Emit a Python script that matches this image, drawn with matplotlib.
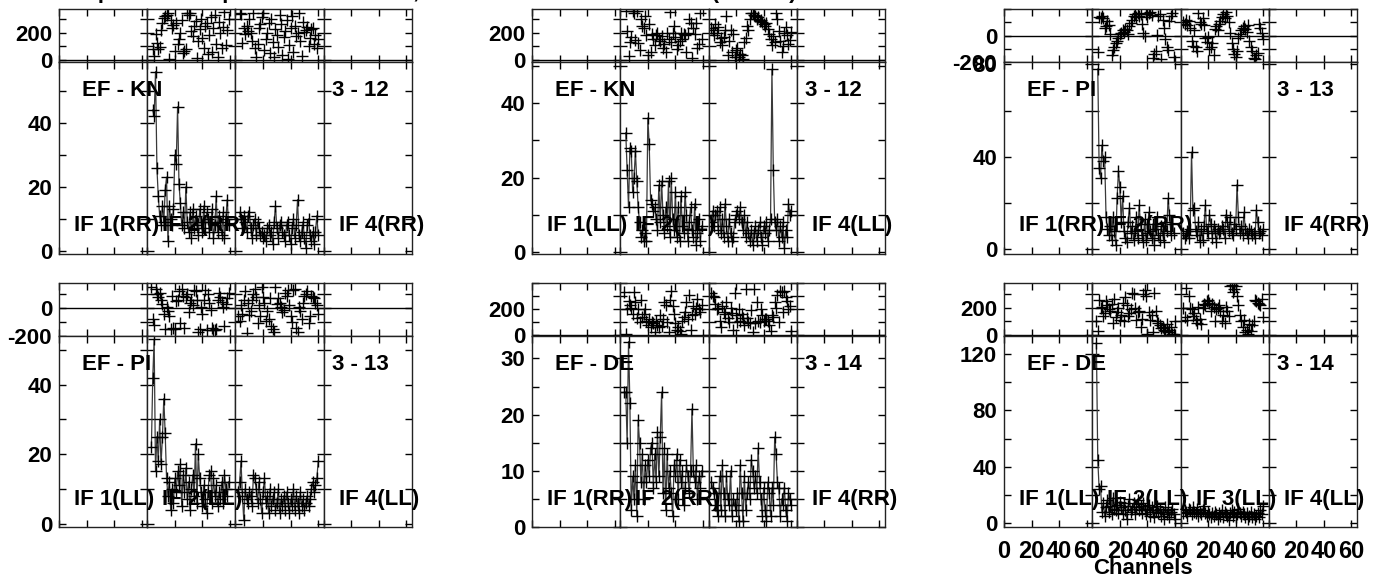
import numpy as np
import matplotlib
matplotlib.use("Agg")
import matplotlib.pyplot as plt
from matplotlib.ticker import FixedLocator, FuncFormatter

plt.rcParams['font.family'] = ['Liberation Sans', 'DejaVu Sans']
plt.rcParams['font.weight'] = 'bold'

# Etiquetas de cada panel
baselines = ["EF - KN", "EF - KN", "EF - PI", "EF - PI", "EF - DE", "EF - DE"]
ant_nums = ["3 - 12", "3 - 12", "3 - 13", "3 - 13", "3 - 14", "3 - 14"]
stokes = ["RR", "LL", "RR", "LL", "RR", "LL"]
if_shown = [[1, 2, 4], [1, 2, 4], [1, 2, 4], [1, 2, 4], [1, 2, 4], [1, 2, 3, 4]]
title_text = "Amplitude and phase vs. channel, Calibrated data for 3C 345  (IF 1 - 4)"

# Canal inicial de los datos (IF 2 e IF 3)
start_if2 = [4, 4, 4, 3, 3, 3]
start_if3 = [3, 2, 2, 2, 2, 2]

# EF - KN RR
kn_rr_amp2 = [44, 42, 56, 26, 17, 11, 8, 14, 9, 19, 23, 3, 14, 10, 8, 13, 30, 27, 45, 21,
              15, 8, 12, 7, 20, 9, 6, 12, 4, 13, 7, 11, 8, 5, 13, 9, 6, 14, 7, 12,
              10, 6, 9, 13, 4, 8, 17, 6, 11, 9, 5, 12, 4, 10, 16, 8]
kn_rr_amp3 = [12, 10, 7, 11, 9, 6, 11, 12, 7, 4, 8, 10, 5, 9, 7, 5, 6, 4, 5, 3,
              7, 8, 5, 6, 2, 9, 14, 7, 4, 8, 9, 6, 5, 3, 8, 9, 5, 2, 7, 10,
              4, 8, 16, 5, 3, 6, 9, 4, 1, 8, 10, 5, 3, 6, 2, 6, 11, 5]
kn_rr_ph2 = [78, 31, 186, 126, 78, 95, 221, 269, 305, 317, 329, 340, 7, 293, 233, 257, 67, 269, 114, 150,
             198, 293, 55, 67, 78, 340, 329, 340, 210, 174, 245, 282, 12, 140, 226, 300, 160, 90, 250, 270,
             45, 180, 310, 60, 236, 330, 120, 20, 275, 195, 85, 240, 350, 110, 215, 300]
kn_rr_ph3 = [340, 335, 126, 233, 186, 250, 210, 300, 196, 142, 340, 88, 25, 120, 230, 260, 310, 345, 75, 150,
             200, 270, 55, 300, 130, 20, 225, 180, 95, 330, 260, 40, 165, 210, 290, 10, 110, 230, 320, 62,
             250, 175, 195, 340, 140, 30, 280, 205, 215, 240, 100, 160, 225, 230, 120, 185, 90, 150]

# EF - KN LL
kn_ll_amp2 = [32, 22, 12, 28, 27, 16, 20, 27, 19, 12, 8, 4, 6, 3, 5, 3, 36, 29, 14, 13,
              11, 12, 9, 6, 18, 8, 19, 10, 5, 12, 7, 19, 4, 20, 9, 6, 16, 4, 12, 3,
              15, 7, 5, 16, 10, 3, 8, 12, 6, 4, 13, 2, 5, 9, 3, 7]
kn_ll_amp3 = [8, 11, 7, 10, 11, 6, 12, 5, 9, 4, 13, 7, 3, 9, 5, 3, 4, 8, 10, 11,
              9, 12, 8, 6, 10, 4, 8, 5, 3, 6, 2, 5, 7, 3, 6, 8, 4, 2, 7, 5,
              8, 3, 6, 9, 49, 22, 8, 6, 9, 3, 7, 4, 8, 1, 6, 4, 13, 10, 11]
kn_ll_ph2 = [360, 210, 30, 130, 170, 355, 345, 145, 355, 125, 75, 300, 250, 230, 320, 180, 40, 260, 60, 190,
             150, 110, 185, 200, 150, 140, 175, 90, 120, 60, 200, 150, 350, 130, 195, 250, 170, 80, 110, 140,
             200, 155, 190, 180, 60, 200, 300, 270, 15, 230, 190, 270, 85, 120, 340, 150]
kn_ll_ph3 = [230, 220, 180, 260, 200, 240, 130, 160, 110, 170, 215, 320, 40, 140, 220, 60, 190, 25, 70, 85,
             20, 45, 40, 10, 130, 160, 250, 215, 295, 340, 345, 330, 320, 300, 310, 285, 290, 280, 260, 250,
             270, 225, 190, 150, 110, 175, 130, 340, 300, 210, 140, 60, 100, 200, 240, 180, 120, 145, 205]

# EF - PI RR
pi_rr_amp2 = [78, 35, 31, 45, 38, 40, 14, 9, 6, 10, 4, 14, 8, 2, 22, 34, 27, 12, 23, 8,
              5, 3, 12, 18, 7, 10, 4, 8, 14, 5, 19, 11, 6, 3, 13, 4, 7, 16, 8, 5,
              11, 2, 9, 14, 6, 4, 10, 7, 3, 12, 8, 22, 15, 6, 11, 7]
pi_rr_amp3 = [7, 5, 6, 8, 5, 9, 42, 17, 18, 8, 6, 12, 3, 9, 4, 10, 19, 8, 7, 15,
              11, 5, 10, 8, 3, 9, 7, 8, 10, 9, 5, 15, 12, 8, 14, 7, 6, 11, 9, 28,
              14, 7, 10, 6, 16, 9, 7, 5, 9, 8, 6, 7, 5, 17, 12, 7, 8, 6, 9]
pi_rr_ph2 = [-125, 140, 135, 150, 130, 60, 75, 110, 80, 15, -150, -110, -90, -60, -40, -20, 10, 20, 45, 30,
             50, 40, 15, 70, 95, 120, 150, 160, 140, 170, 150, 165, 90, 20, -5, 160, 140, 170, 180, 155,
             -170, -140, -120, 5, 150, 165, -175, 120, 60, -30, -90, -110, 110, 150, 170, -160]
pi_rr_ph3 = [100, 90, 120, 80, 110, 60, -40, -80, 40, -90, -120, 170, 100, 85, 130, 80, -20, -50, -10, -100,
             -90, -60, -150, 50, 70, 40, 90, 110, 140, 160, 130, 175, 150, 100, 20, -60, -100, -140, -160, -120,
             -20, 10, 40, 60, 70, 50, 30, 80, -40, -90, -120, -170, -175, -150, -130, 90, 60, 20, -30]

# EF - PI LL
pi_ll_amp2 = [22, 42, 53, 15, 25, 18, 30, 17, 25, 36, 26, 13, 8, 12, 4, 10, 6, 13, 9, 15,
              11, 17, 5, 14, 9, 16, 7, 12, 4, 10, 14, 8, 23, 6, 20, 13, 9, 5, 11, 7,
              3, 9, 14, 15, 6, 13, 8, 11, 5, 9, 7, 12, 6, 14, 10, 8, 12]
pi_ll_amp3 = [9, 12, 18, 8, 1, 10, 7, 6, 9, 8, 5, 14, 13, 10, 6, 12, 7, 3, 9, 13,
              6, 8, 3, 10, 5, 7, 9, 4, 6, 10, 3, 7, 5, 8, 4, 9, 6, 3, 7, 5,
              10, 4, 8, 6, 3, 9, 5, 7, 4, 6, 8, 5, 7, 10, 12, 9, 11, 13, 18]
pi_ll_ph2 = [150, -80, -120, 140, 100, 80, 110, 60, 30, -40, -150, 10, -20, -60, -150, 90, -140, -150, 50, 60,
             120, -110, 140, 90, -140, 80, 100, -30, 40, 60, 20, 130, 120, 60, -170, -150, 5, -40, 60, 130,
             -160, 100, 40, -10, -140, -155, -160, -150, 60, 110, 80, 45, 10, -130, 30, 70, 110]
pi_ll_ph3 = [-60, -90, 20, -40, 60, 120, -180, 40, -50, -20, 60, 100, 140, 80, -110, 20, -60, 150, 80, 40,
             -90, -20, -80, 70, -130, -150, -170, 150, 30, 70, 40, 10, -30, -10, 110, 90, 130, 20, -60, -100,
             130, 140, -140, -170, 10, -20, -80, 40, 90, 100, 120, -110, -60, 90, 80, 70, 40, 20, -40]

# EF - DE RR
de_rr_amp2 = [24, 24, 15, 33, 22, 3, 9, 5, 11, 2, 19, 15, 8, 13, 5, 11, 8, 12, 9, 14,
              15, 7, 13, 8, 17, 9, 16, 24, 6, 14, 3, 13, 7, 10, 6, 2, 11, 9, 13, 5,
              12, 8, 10, 4, 7, 11, 9, 6, 10, 21, 10, 8, 11, 5, 9, 7, 10]
de_rr_amp3 = [8, 7, 6, 4, 3, 2, 9, 3, 11, 6, 2, 9, 5, 4, 10, 2, 5, 4, 3, 6,
              1, 11, 6, 1, 9, 3, 6, 8, 5, 12, 10, 7, 9, 6, 14, 8, 5, 2, 7, 3,
              1, 8, 6, 2, 7, 4, 16, 13, 8, 7, 2, 5, 4, 7, 3, 1, 6, 5, 4]
de_rr_ph2 = [330, 5, 200, 260, 230, 205, 160, 330, 250, 130, 200, 100, 270, 140, 160, 200, 110, 80, 120, 60,
             100, 90, 20, 110, 80, 60, 150, 70, 120, 250, 230, 100, 20, 270, 340, 220, 160, 90, 40, 60,
             30, 10, 110, 140, 180, 250, 120, 310, 40, 150, 220, 160, 210, 280, 200, 180, 230]
de_rr_ph3 = [320, 300, 290, 240, 200, 210, 110, 60, 220, 180, 160, 250, 130, 100, 210, 170, 40, 320, 150, 100,
             200, 110, 160, 130, 80, 350, 130, 100, 90, 190, 20, 350, 90, 250, 110, 100, 200, 150, 110, 120,
             120, 110, 80, 30, 150, 140, 250, 210, 310, 100, 340, 330, 180, 340, 290, 260, 200, 220, 30]

# EF - DE LL
de_ll_amp2 = [128, 45, 24, 26, 8, 14, 5, 11, 16, 8, 12, 6, 18, 10, 9, 13, 7, 15, 11, 6,
              14, 9, 3, 12, 17, 8, 10, 14, 6, 11, 16, 9, 12, 7, 14, 10, 6, 9, 13, 5,
              11, 8, 4, 9, 12, 7, 10, 5, 8, 3, 11, 6, 9, 4, 8, 10, 6, 3]
de_ll_amp3 = [7, 9, 8, 5, 10, 9, 6, 11, 8, 7, 10, 5, 8, 6, 9, 12, 7, 5, 8, 6,
              4, 7, 5, 8, 6, 3, 7, 5, 9, 4, 8, 6, 5, 2, 7, 9, 5, 8, 4, 6,
              10, 7, 5, 8, 6, 4, 7, 3, 5, 8, 4, 6, 3, 5, 7, 4, 9, 6, 12]
de_ll_ph2 = [100, 30, 260, 200, 210, 140, 160, 250, 220, 190, 180, 230, 90, 270, 130, 170, 200, 110, 150, 240,
             100, 280, 220, 140, 160, 190, 310, 300, 200, 110, 170, 180, 60, 120, 300, 330, 290, 10, 170, 110,
             150, 20, 310, 180, 100, 90, 70, 50, 60, 40, 30, 80, 20, 40, 60, 5, 10, 100]
de_ll_ph3 = [200, 130, 350, 110, 290, 200, 190, 140, 160, 110, 90, 210, 120, 80, 200, 230, 220, 250, 260, 240,
             180, 230, 210, 100, 190, 200, 220, 180, 100, 150, 90, 210, 180, 140, 360, 370, 320, 340, 360, 290,
             220, 150, 100, 60, 110, 20, 40, 10, 80, 30, 70, 100, 260, 250, 240, 230, 220, 270, 130]

amp_if2 = [kn_rr_amp2, kn_ll_amp2, pi_rr_amp2, pi_ll_amp2, de_rr_amp2, de_ll_amp2]
amp_if3 = [kn_rr_amp3, kn_ll_amp3, pi_rr_amp3, pi_ll_amp3, de_rr_amp3, de_ll_amp3]
ph_if2 = [kn_rr_ph2, kn_ll_ph2, pi_rr_ph2, pi_ll_ph2, de_rr_ph2, de_ll_ph2]
ph_if3 = [kn_rr_ph3, kn_ll_ph3, pi_rr_ph3, pi_ll_ph3, de_rr_ph3, de_ll_ph3]

# Escalas de cada panel: (ylim, ticks, ticks con etiqueta)
amp_scale = [((-1, 59), range(0, 60, 10), [0, 20, 40]),
             ((-0.5, 51), range(0, 60, 10), [0, 20, 40]),
             ((-2, 81), range(0, 100, 20), [0, 40, 80]),
             ((-1, 54), range(0, 60, 10), [0, 20, 40]),
             ((0, 34), range(0, 35, 5), [0, 10, 20, 30]),
             ((-3, 133), range(0, 140, 20), [0, 40, 80, 120])]
ph_scale = [((-14, 371), range(0, 400, 100), [0, 200]),
            ((-14, 371), range(0, 400, 100), [0, 200]),
            ((-200, 200), range(-200, 300, 100), [-200, 0]),
            ((-200, 180), range(-200, 200, 100), [-200, 0]),
            ((-8, 400), range(0, 500, 100), [0, 200]),
            ((-8, 385), range(0, 400, 100), [0, 200])]

# Geometria (pixeles)
W, H = 1391, 583
panel_left = [59, 532, 1004]
col_w = 353 / 4
row_y = [(9, 62, 254), (283, 336, 527)]
FS = 16


def fx(px):
    return px / W


def fy(py):
    return 1 - py / H


def style_axis(ax, scale, show_y, show_x):
    lim, ticks, labelled = scale
    ax.set_xlim(0, 64)
    ax.set_ylim(*lim)
    ax.xaxis.set_major_locator(FixedLocator([0, 20, 40, 60]))
    ax.yaxis.set_major_locator(FixedLocator(list(ticks)))
    ax.yaxis.set_major_formatter(FuncFormatter(lambda v, pos: f"{int(v)}" if int(v) in labelled else ""))
    ax.tick_params(direction='in', top=True, right=True, length=5, width=1,
                   labelsize=FS, pad=5, colors='black')
    ax.tick_params(axis='x', pad=9, labelsize=FS + 1)
    ax.tick_params(labelleft=show_y, labelbottom=show_x)
    for s in ax.spines.values():
        s.set_linewidth(1)
        s.set_color('#222222')
    for lab in ax.get_xticklabels() + ax.get_yticklabels():
        lab.set_fontweight('bold')


fig = plt.figure(figsize=(W / 100, H / 100), dpi=100)

for p in range(6):
    r, c = divmod(p, 3)
    top, mid, bot = row_y[r]
    x0 = panel_left[c]
    for k in range(4):
        left = x0 + k * col_w
        axp = fig.add_axes([fx(left), fy(mid), col_w / W, (mid - top) / H])
        axa = fig.add_axes([fx(left), fy(bot), col_w / W, (bot - mid) / H])
        axp.axhline(0, color='black', lw=1)
        if k == 1:
            ch = start_if2[p] + np.arange(len(amp_if2[p]))
            axa.plot(ch, amp_if2[p], '-', color='#3a3a3a', lw=0.9)
            axa.plot(ch, amp_if2[p], '+', color='black', ms=8, mew=1)
            axp.plot(ch, ph_if2[p], '+', color='black', ms=8, mew=1)
        if k == 2:
            ch = start_if3[p] + np.arange(len(amp_if3[p]))
            axa.plot(ch, amp_if3[p], '-', color='#3a3a3a', lw=0.9)
            axa.plot(ch, amp_if3[p], '+', color='black', ms=8, mew=1)
            axp.plot(ch, ph_if3[p], '+', color='black', ms=8, mew=1)
        style_axis(axp, ph_scale[p], k == 0, False)
        style_axis(axa, amp_scale[p], k == 0, p == 5)

    # Textos del panel
    fig.text(fx(x0 + 23), fy(mid + 28), baselines[p], fontsize=FS, fontweight='bold',
             ha='left', va='center', zorder=10)
    fig.text(fx(x0 + 3 * col_w + 8), fy(mid + 28), ant_nums[p], fontsize=FS, fontweight='bold',
             ha='left', va='center', zorder=10)
    for n in if_shown[p]:
        fig.text(fx(x0 + (n - 1) * col_w + 15), fy(bot - 28), f"IF {n}({stokes[p]})",
                 fontsize=FS, fontweight='bold', ha='left', va='center', zorder=10)

fig.text(fx(1143), fy(568), "Channels", fontsize=FS, fontweight='bold', ha='center', va='center')
fig.text(fx(62), fy(-2), title_text, fontsize=FS, fontweight='bold', ha='left', va='baseline')

fig.savefig("out.png", dpi=100, facecolor='white')
